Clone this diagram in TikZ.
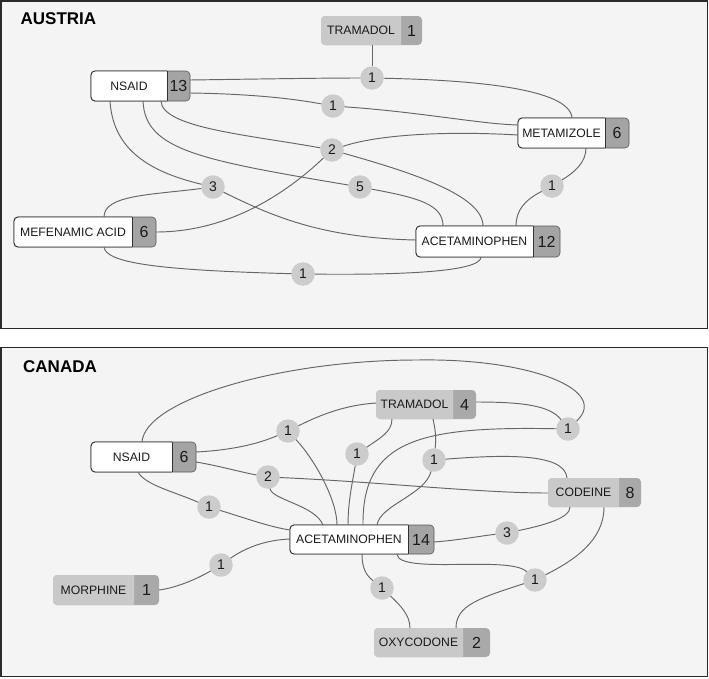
\documentclass[tikz,border=0pt]{standalone}
\usepackage{fontspec}
\setmainfont{Liberation Sans}
\definecolor{panelbg}{HTML}{F4F4F4}
\definecolor{panelline}{HTML}{2A2A2A}
\definecolor{edgecol}{HTML}{666666}
\definecolor{circfill}{HTML}{CCCCCC}
\definecolor{glabcol}{HTML}{C9C9C9}
\definecolor{gnumcol}{HTML}{A9A9A9}
\definecolor{wnumcol}{HTML}{A4A4A4}
\definecolor{txt}{HTML}{1A1A1A}
\definecolor{boxline}{HTML}{303030}
\tikzset{
  edge/.style={draw=edgecol, line width=0.95pt},
  cnt/.style={circle, fill=circfill, minimum size=23.5pt, inner sep=0pt, outer sep=0pt, font=\fontsize{14}{16}\selectfont, text=txt},
  boxnode/.style={rectangle, inner sep=0pt, outer sep=0pt},
  lab/.style={font=\fontsize{12.2}{14}\selectfont, text=txt, inner sep=0pt},
  num/.style={font=\fontsize{16}{18}\selectfont, text=txt, inner sep=0pt},
  ttl/.style={font=\fontsize{17}{19}\selectfont\bfseries, anchor=base west, inner sep=0pt, text=black},
  panel/.style={fill=panelbg, draw=panelline, line width=1.4pt},
}
% #1 name, #2 x1, #3 y1, #4 split x, #5 x2, #6 y2, #7 label, #8 number
\newcommand{\gbox}[8]{%
  \fill[gnumcol, rounded corners=4pt] (#2,#3) rectangle (#5,#6);
  \begin{scope}
    \clip (#2-3,#3-3) rectangle (#4,#6+3);
    \fill[glabcol, rounded corners=4pt] (#2,#3) rectangle (#5,#6);
  \end{scope}
  \node[boxnode, minimum width=#5pt-#2pt, minimum height=#6pt-#3pt] (#1) at ({(#2+#5)/2},{(#3+#6)/2}) {};
  \node[lab] at ({(#2+#4)/2},{(#3+#6)/2}) {#7};
  \node[num] at ({(#4+#5)/2},{(#3+#6)/2}) {#8};
}
\newcommand{\wbox}[8]{%
  \fill[wnumcol, rounded corners=4pt] (#2,#3) rectangle (#5,#6);
  \draw[gray!70!black, line width=0.6pt, rounded corners=4pt] (#2,#3) rectangle (#5,#6);
  \begin{scope}
    \clip (#2-3,#3-3) rectangle (#4,#6+3);
    \filldraw[fill=white, draw=boxline, line width=0.9pt, rounded corners=4pt] (#2,#3) rectangle (#5,#6);
  \end{scope}
  \draw[boxline, line width=0.9pt] (#4,#3) -- (#4,#6);
  \node[boxnode, minimum width=#5pt-#2pt, minimum height=#6pt-#3pt] (#1) at ({(#2+#5)/2},{(#3+#6)/2}) {};
  \node[lab] at ({(#2+#4)/2},{(#3+#6)/2}) {#7};
  \node[num] at ({(#4+#5)/2},{(#3+#6)/2}) {#8};
}
\begin{document}
\begin{tikzpicture}[x=1pt,y=-1pt]
\useasboundingbox (0,0) rectangle (709,678);
\fill[white] (0,0) rectangle (709,678);
\filldraw[panel] (0.8,0.8) rectangle (707.6,328.4);
\filldraw[panel] (0.8,347.6) rectangle (707.6,676.6);
\node[ttl] (tA) at (20.5,24) {AUSTRIA};
\node[ttl] (tC) at (23,372) {CANADA};

% ---------------- AUSTRIA ----------------
\wbox{aNS}{91}{71}{167}{190}{101}{NSAID}{13}
\gbox{aTR}{321}{16}{401}{422}{45}{TRAMADOL}{1}
\wbox{aME}{518}{118}{605}{629}{148}{METAMIZOLE}{6}
\wbox{aMF}{14}{217}{132}{156}{247}{MEFENAMIC ACID}{6}
\wbox{aAC}{416}{226}{533}{560}{257}{ACETAMINOPHEN}{12}

\node[cnt] (a1) at (372,78) {1};
\node[cnt] (a2) at (332,150) {2};
\node[cnt] (a3) at (333,106) {1};
\node[cnt] (a4) at (213,187) {3};
\node[cnt] (a5) at (360,187) {5};
\node[cnt] (a6) at (552,186) {1};
\node[cnt] (a7) at (303,274) {1};

\draw[edge] (372,0 |- aTR.south) -- (a1);
\draw[edge] (aNS.east |- 0,80) .. controls (260,79) and (320,78) .. (a1);
\draw[edge] (a1) .. controls (470,80) and (570,88) .. (572,0 |- aME.north);
\draw[edge] (aNS.east |- 0,93) .. controls (260,94) and (300,100) .. (a3);
\draw[edge] (a3) .. controls (420,112) and (480,124) .. (aME.west |- 0,125);
\draw[edge] (161,0 |- aNS.south) .. controls (162,128) and (250,135) .. (a2);
\draw[edge] (a2) .. controls (380,134) and (450,131) .. (aME.west |- 0,135);
\draw[edge] (a2) .. controls (300,180) and (240,232) .. (aMF.east |- 0,232);
\draw[edge] (a2) .. controls (410,172) and (483,195) .. (483,0 |- aAC.north);
\draw[edge] (110,0 |- aNS.south) .. controls (113,150) and (150,172) .. (a4);
\draw[edge] (a4) .. controls (150,195) and (104,195) .. (104,0 |- aMF.north);
\draw[edge] (a4) .. controls (270,215) and (320,238) .. (aAC.west |- 0,240);
\draw[edge] (143,0 |- aNS.south) .. controls (145,150) and (200,160) .. (a5);
\draw[edge] (a5) .. controls (420,198) and (443,205) .. (443,0 |- aAC.north);
\draw[edge] (586,0 |- aME.south) .. controls (586,162) and (575,172) .. (a6);
\draw[edge] (a6) .. controls (525,200) and (516,210) .. (516,0 |- aAC.north);
\draw[edge] (104,0 |- aMF.south) .. controls (106,262) and (150,270) .. (a7);
\draw[edge] (a7) .. controls (400,275) and (481,272) .. (481,0 |- aAC.south);

% ---------------- CANADA ----------------
\wbox{cNS}{91}{442}{172}{196}{472}{NSAID}{6}
\gbox{cTR}{376}{390}{453}{476}{419}{TRAMADOL}{4}
\gbox{cCO}{548}{478}{619}{641}{507}{CODEINE}{8}
\wbox{cAC}{290}{525}{408}{434}{554}{ACETAMINOPHEN}{14}
\gbox{cMO}{53}{575}{134}{159}{605}{MORPHINE}{1}
\gbox{cOX}{374}{628}{463}{490}{657}{OXYCODONE}{2}

\node[cnt] (k1) at (288,431) {1};
\node[cnt] (k2) at (268,477) {2};
\node[cnt] (k3) at (209,507) {1};
\node[cnt] (k4) at (357,454) {1};
\node[cnt] (k5) at (434,460) {1};
\node[cnt] (k6) at (568,429) {1};
\node[cnt] (k7) at (507,533) {3};
\node[cnt] (k8) at (535,580) {1};
\node[cnt] (k9) at (382,588) {1};
\node[cnt] (k10) at (221,565) {1};

\draw[edge] (142,0 |- cNS.north) .. controls (145,400) and (280,360) .. (417,360) .. controls (530,358) and (610,390) .. (k6);
\draw[edge] (cTR.east |- 0,402) .. controls (520,402) and (550,405) .. (k6);
\draw[edge] (363,0 |- cAC.north) .. controls (362,440) and (420,426) .. (k6);
\draw[edge] (cNS.east |- 0,452) .. controls (235,450) and (260,443) .. (k1);
\draw[edge] (k1) .. controls (320,415) and (345,405) .. (cTR.west |- 0,403);
\draw[edge] (k1) .. controls (315,460) and (337,500) .. (337,0 |- cAC.north);
\draw[edge] (cNS.east |- 0,462) .. controls (220,466) and (240,472) .. (k2);
\draw[edge] (k2) .. controls (380,482) and (480,493) .. (cCO.west |- 0,493);
\draw[edge] (k2) .. controls (272,500) and (315,505) .. (323,0 |- cAC.north);
\draw[edge] (138,0 |- cNS.south) .. controls (145,485) and (175,492) .. (k3);
\draw[edge] (k3) .. controls (245,518) and (270,527) .. (cAC.west |- 0,530);
\draw[edge] (392,0 |- cTR.south) .. controls (392,432) and (380,438) .. (k4);
\draw[edge] (k4) .. controls (353,480) and (348,500) .. (348,0 |- cAC.north);
\draw[edge] (433,0 |- cTR.south) .. controls (436,432) and (436,440) .. (k5);
\draw[edge] (k5) .. controls (500,455) and (565,452) .. (567,0 |- cCO.north);
\draw[edge] (k5) .. controls (425,495) and (380,505) .. (377,0 |- cAC.north);
\draw[edge] (cAC.east |- 0,542) .. controls (460,540) and (480,536) .. (k7);
\draw[edge] (k7) .. controls (545,525) and (570,518) .. (570,0 |- cCO.south);
\draw[edge] (397,0 |- cAC.south) .. controls (398,575) and (510,555) .. (k8);
\draw[edge] (k8) .. controls (575,560) and (604,540) .. (604,0 |- cCO.south);
\draw[edge] (k8) .. controls (480,598) and (456,605) .. (456,0 |- cOX.north);
\draw[edge] (362,0 |- cAC.south) .. controls (362,568) and (366,575) .. (k9);
\draw[edge] (k9) .. controls (400,605) and (410,615) .. (410,0 |- cOX.north);
\draw[edge] (cAC.west |- 0,539) .. controls (265,540) and (245,548) .. (k10);
\draw[edge] (k10) .. controls (195,580) and (175,588) .. (cMO.east |- 0,590);
\end{tikzpicture}
\end{document}
